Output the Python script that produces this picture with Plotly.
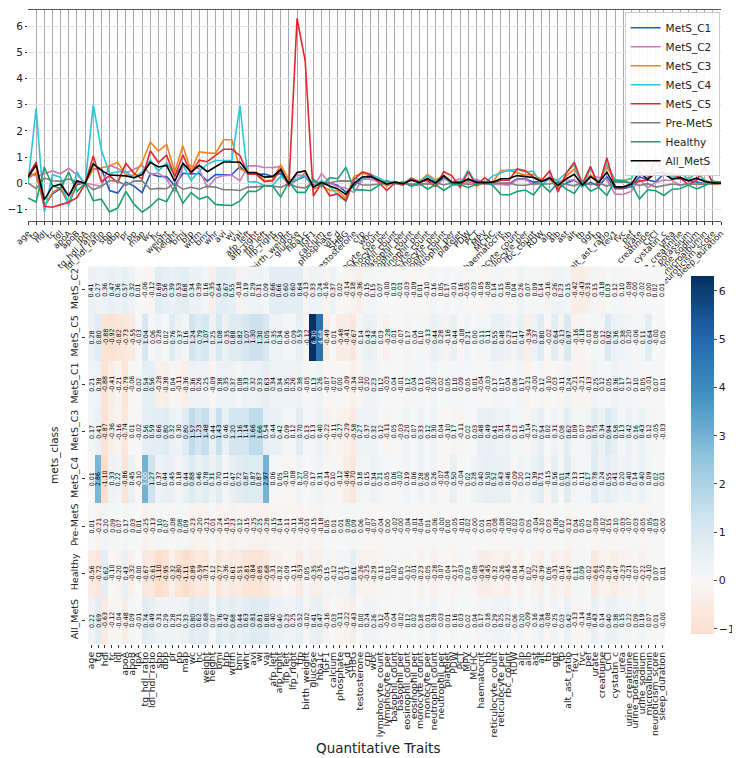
import numpy as np
import plotly.graph_objects as go

traits = ["age", "tg", "hdl", "tc", "ldl", "apoA", "apoB", "lpA", "tg_hdl_ratio", "ldl_hdl_ratio",
          "sbp", "dbp", "pr", "pp", "map", "wc", "hc", "weight", "height", "bmi",
          "bfp", "wtfm", "bmr", "whr", "avi", "wi", "vai", "afp_left", "afp_right", "lfp_left",
          "lfp_right", "tfp", "birth_weight", "glucose", "hba1c", "IGF1", "calcium", "phosphate", "vit_d", "SHBG",
          "testosterone", "crp", "wbc", "lymphocyte_count", "lymphocyte_per", "basophil_count", "basophil_per",
          "eosinophil_count", "eosinophil_per", "monocyte_count", "monocyte_per", "neutrophil_count",
          "neutrophil_per", "platelet", "PDW", "PCT", "MPV", "MCHC", "haematocrit", "hb",
          "reticulocyte_count", "reticulocyte_per", "rbc_count", "RDW", "alp", "alb", "ast", "alt", "tb", "ggt",
          "tp", "alt_ast_ratio", "fev1", "fvc", "pef", "urate", "creatinine", "CrCl", "cystatin_c", "urea",
          "urine_creatinine", "urine_potassium", "urine_sodium", "microalbumin", "neuroticism_score",
          "sleep_duration"]

mets_c1 = [0.21, 0.38, -0.88, -0.41, -0.21, -0.79, -0.06, 0.02, 0.54, 0.56,
           -0.28, -0.38, 0.04, -0.11, -0.36, 0.36, 0.26, 0.25, -0.09, 0.38,
           0.35, 0.37, 0.08, 0.33, 0.32, 0.33, 0.63, 0.34, 0.34, 0.35,
           0.26, 0.38, -0.05, 0.13, 0.26, -0.07, -0.07, 0.00, -0.09, -0.34,
           -0.10, 0.20, 0.23, 0.12, -0.03, 0.04, -0.01, 0.12, 0.04, 0.13,
           -0.01, 0.20, 0.02, 0.05, 0.10, 0.09, 0.05, 0.01, -0.04, -0.03,
           0.17, 0.17, 0.04, 0.06, 0.17, -0.21, -0.00, 0.12, -0.10, 0.03,
           -0.11, 0.24, -0.21, -0.21, -0.13, 0.25, 0.12, 0.05, 0.36, 0.17,
           0.17, 0.10, 0.05, -0.01, 0.07, 0.01]

mets_c2 = [0.41, 0.27, 0.36, 0.47, 0.36, 0.57, 0.32, 0.01, -0.06, -0.12,
           0.69, 0.56, 0.39, 0.53, 0.68, 0.34, 0.39, 0.16, -0.35, 0.64,
           0.67, 0.55, -0.18, 0.19, 0.29, 0.31, 0.09, 0.66, 0.66, 0.60,
           0.60, 0.64, -0.13, 0.33, 0.24, -0.16, 0.37, 0.02, -0.14, -0.18,
           -0.36, 0.15, 0.15, 0.07, -0.00, 0.03, -0.01, -0.03, -0.09, 0.01,
           -0.10, 0.16, 0.05, 0.17, -0.01, 0.16, -0.05, -0.03, -0.05, -0.08,
           0.14, 0.15, -0.06, 0.04, 0.26, 0.07, 0.09, 0.14, -0.16, 0.26,
           0.23, 0.15, -0.42, -0.43, -0.31, 0.15, -0.18, 0.03, 0.12, 0.10,
           -0.08, -0.00, -0.02, 0.00, 0.02, 0.01]

mets_c3 = [0.17, 0.41, -0.87, -0.36, -0.16, -0.74, 0.01, -0.02, 0.56, 0.59,
           0.66, 0.80, 0.32, 0.30, 0.80, 1.57, 1.23, 1.48, 0.44, 1.43,
           0.46, 1.20, 1.16, 1.14, 1.66, 1.66, 0.54, 0.44, 0.42, 0.09,
           0.12, 0.70, 0.13, 0.13, 0.40, -0.22, -0.11, -0.27, -0.29, -0.58,
           0.27, 0.37, 0.32, 0.12, -0.11, 0.05, -0.03, 0.20, 0.07, 0.33,
           0.12, 0.30, 0.04, -0.10, 0.17, -0.11, 0.02, 0.03, 0.48, 0.49,
           0.41, 0.31, 0.34, 0.13, 0.15, -0.14, 0.27, 0.54, 0.02, 0.31,
           0.08, 0.62, 0.09, 0.07, 0.19, 0.75, 0.34, 0.94, 0.58, 0.13,
           0.42, 0.16, 0.43, 0.12, -0.05, -0.03]

mets_c4 = [0.01, 2.86, -1.10, 0.33, 0.22, -0.86, 0.45, -0.10, 3.00, 1.27,
           0.37, 0.44, 0.45, 0.18, 0.44, 0.88, 0.46, 0.78, 0.31, 0.70,
           0.11, 0.47, 0.72, 0.87, 0.87, 0.87, 2.97, 0.06, 0.05, -0.10,
           -0.08, 0.27, -0.00, 0.17, 0.31, -0.14, 0.10, -0.12, -0.46, -0.70,
           0.18, 0.15, 0.34, 0.21, 0.05, 0.06, -0.02, 0.19, 0.06, 0.28,
           0.06, 0.26, -0.07, -0.04, 0.50, -0.04, 0.02, 0.28, 0.40, 0.50,
           0.52, 0.43, 0.46, -0.09, 0.20, 0.12, 0.39, 0.71, -0.15, 0.56,
           0.01, 0.74, 0.13, 0.11, 0.17, 0.78, 0.24, 0.55, 0.41, 0.20,
           0.40, 0.14, 0.40, 0.09, 0.02, 0.01]

mets_c5 = [0.28, 0.80, -0.88, -0.92, -0.82, -0.73, -0.55, -0.03, 1.04, 0.06,
           0.28, 0.02, 0.76, 0.37, 0.16, 1.24, 0.79, 1.07, 0.25, 1.08,
           0.35, 0.88, 0.82, 1.07, 1.30, 1.30, 1.05, 0.35, 0.34, 0.06,
           0.09, 0.53, -0.12, 6.30, 4.68, -0.49, 0.01, -0.48, -0.41, -0.67,
           0.14, 0.43, 0.34, 0.03, -0.28, 0.01, -0.07, 0.17, 0.04, 0.10,
           -0.13, 0.44, 0.28, -0.16, 0.44, -0.08, 0.21, 0.00, 0.11, 0.11,
           0.55, 0.48, 0.23, 0.11, 0.47, -0.34, 0.37, 0.80, -0.02, 0.64,
           -0.13, 0.97, -0.16, -0.18, -0.01, 0.08, 0.12, 0.92, 0.36, 0.38,
           0.20, -0.06, 0.11, 0.64, -0.00, 0.05]

pre_mets = [0.01, -0.21, 0.20, 0.09, 0.07, 0.17, 0.03, 0.01, -0.25, -0.13,
            0.10, 0.07, -0.08, 0.08, 0.09, -0.23, -0.20, -0.21, -0.01, -0.24,
            -0.15, -0.23, -0.12, -0.15, -0.25, -0.25, -0.28, -0.15, -0.14, -0.11,
            -0.11, -0.16, -0.01, -0.15, -0.18, 0.05, 0.01, 0.01, 0.08, 0.09,
            0.06, -0.07, -0.07, -0.04, 0.00, -0.02, -0.00, -0.04, -0.01, -0.04,
            0.01, -0.06, -0.00, 0.00, -0.05, -0.01, -0.02, -0.00, 0.01, 0.01,
            -0.08, -0.08, -0.02, -0.02, -0.03, 0.05, -0.04, -0.10, 0.03, -0.06,
            0.02, -0.12, 0.04, 0.05, 0.02, -0.09, -0.02, -0.15, -0.10, -0.03,
            -0.07, -0.03, -0.05, -0.05, -0.03, -0.00]

healthy = [-0.56, -0.72, 0.62, -0.10, -0.20, 0.43, -0.32, -0.00, -0.67, -0.61,
           -1.10, -0.95, -0.32, -0.80, -1.11, -0.89, -0.59, -0.71, -0.12, -0.77,
           -0.36, -0.61, -0.51, -0.81, -0.84, -0.85, -0.68, -0.31, -0.32, -0.09,
           -0.11, -0.53, 0.05, -0.35, -0.35, 0.15, -0.12, 0.21, 0.17, 0.61,
           -0.26, -0.25, -0.29, -0.11, 0.10, -0.02, 0.05, -0.12, -0.01, -0.23,
           -0.05, -0.28, -0.07, -0.04, -0.17, -0.03, 0.03, -0.08, -0.43, -0.45,
           -0.32, -0.26, -0.45, -0.04, -0.34, 0.02, -0.22, -0.39, 0.06, -0.31,
           -0.16, -0.47, 0.11, 0.09, -0.02, -0.61, -0.25, -0.29, -0.47, -0.23,
           -0.21, -0.07, -0.22, -0.10, 0.07, 0.01]

all_mets = [0.22, 0.69, -0.63, -0.12, -0.04, -0.48, 0.09, -0.01, 0.74, 0.49,
            0.31, 0.29, 0.28, 0.21, 0.33, 0.80, 0.62, 0.68, 0.07, 0.76,
            0.42, 0.68, 0.44, 0.63, 0.81, 0.81, 0.80, 0.40, 0.40, 0.23,
            0.25, 0.52, -0.02, 0.41, 0.47, -0.16, 0.03, -0.11, -0.22, -0.43,
            0.00, 0.24, 0.26, 0.12, -0.04, 0.04, -0.02, 0.12, 0.02, 0.18,
            0.01, 0.28, 0.03, 0.01, 0.16, 0.03, 0.02, 0.04, 0.17, 0.18,
            0.29, 0.25, 0.22, 0.06, 0.20, -0.09, 0.16, 0.34, -0.08, 0.25,
            0.03, 0.42, -0.13, -0.14, -0.04, 0.43, 0.14, 0.40, 0.38, 0.15,
            0.22, 0.09, 0.19, 0.07, 0.01, -0.00]

classes = {"MetS_C1": mets_c1, "MetS_C2": mets_c2, "MetS_C3": mets_c3, "MetS_C4": mets_c4,
           "MetS_C5": mets_c5, "Pre-MetS": pre_mets, "Healthy": healthy, "All_MetS": all_mets}
line_colors = {"MetS_C1": "#1f58c9", "MetS_C2": "#cf7bb3", "MetS_C3": "#ff7f0e", "MetS_C4": "#2cc6da",
               "MetS_C5": "#df272c", "Pre-MetS": "#7f7f7f", "Healthy": "#17a077", "All_MetS": "#000000"}
heat_rows = ["MetS_C2", "MetS_C5", "MetS_C1", "MetS_C3", "MetS_C4", "Pre-MetS", "Healthy", "All_MetS"]

FONT = "DejaVu Sans"

# RdBu centrado en 0 (como seaborn con center=0)
rdbu = np.array([(103, 0, 31), (178, 24, 43), (214, 96, 77), (244, 165, 130), (253, 219, 199),
                 (247, 247, 247), (209, 229, 240), (146, 197, 222), (67, 147, 195), (33, 102, 172),
                 (5, 48, 97)], dtype=float)
pos = np.linspace(0, 1, len(rdbu))

z = np.array([classes[r] for r in heat_rows])
zmin, zmax = z.min(), z.max()
vrange = max(zmax, -zmin)

def color_at(v):
    t = 0.5 + v / (2 * vrange)
    return [np.interp(t, pos, rdbu[:, k]) for k in range(3)]

def lum(rgb):
    c = np.array(rgb) / 255.0
    c = np.where(c <= 0.03928, c / 12.92, ((c + 0.055) / 1.055) ** 2.4)
    return 0.2126 * c[0] + 0.7152 * c[1] + 0.0722 * c[2]

colorscale = []
for p in np.linspace(0, 1, 61):
    r, g, b = color_at(zmin + p * (zmax - zmin))
    colorscale.append([p, f"rgb({r:.0f},{g:.0f},{b:.0f})"])

fig = go.Figure()

for name, vals in classes.items():
    fig.add_trace(go.Scatter(x=traits, y=vals, mode="lines", name=name,
                             line=dict(color=line_colors[name], width=1.6),
                             xaxis="x", yaxis="y"))

fig.add_trace(go.Heatmap(z=z, x=traits, y=heat_rows, xaxis="x2", yaxis="y2",
                         colorscale=colorscale, zmin=zmin, zmax=zmax, showscale=True,
                         colorbar=dict(x=0.943, xanchor="left", y=0.4095, yanchor="middle",
                                       len=0.501, thickness=23, outlinewidth=0,
                                       tickvals=list(range(-1, 7)), ticks="outside", ticklen=3,
                                       tickfont=dict(size=11, family=FONT, color="#222"))))

# numeros de cada celda, girados como en seaborn
annots = []
for i, row in enumerate(heat_rows):
    for j, tr in enumerate(traits):
        v = z[i, j]
        col = "#000000" if lum(color_at(v)) > 0.408 else "#ffffff"
        annots.append(dict(x=tr, y=row, xref="x2", yref="y2", text=f"{v:.2f}", textangle=-90,
                           showarrow=False, font=dict(size=6.3, family=FONT, color=col)))

annots.append(dict(x=0.505, y=0.008, xref="paper", yref="paper", text="Quantitative Traits",
                   showarrow=False, font=dict(size=13.5, family=FONT, color="#222")))

fig.update_layout(
    width=740, height=758,
    margin=dict(l=20, r=2, t=2, b=2),
    paper_bgcolor="white", plot_bgcolor="white",
    font=dict(family=FONT, color="#222"),
    annotations=annots,
    legend=dict(x=0.998, xanchor="right", y=0.997, yanchor="top", bgcolor="rgba(255,255,255,0.9)",
                bordercolor="#cccccc", borderwidth=1, font=dict(size=10.5, family=FONT),
                tracegroupgap=0, itemwidth=30),
    xaxis=dict(domain=[0, 1], anchor="y", range=[0, len(traits) - 1], tickangle=-45,
               tickmode="array", tickvals=traits, automargin=False,
               tickfont=dict(size=8.5, family=FONT), showgrid=True, gridcolor="#a8a8a8",
               gridwidth=1, ticks="outside", ticklen=3, tickcolor="#333",
               showline=True, linecolor="#555", mirror=True, zeroline=False),
    yaxis=dict(domain=[0.72, 1], anchor="x", range=[-1.45, 6.62], dtick=1, automargin=False,
               tickfont=dict(size=10.5, family=FONT), showgrid=True, gridcolor="#e2e2e2",
               ticks="outside", ticklen=2, tickcolor="#333", zeroline=False),
    xaxis2=dict(domain=[0.0836, 0.923], anchor="y2", tickangle=-90, tickmode="array",
                tickvals=traits, automargin=False, tickfont=dict(size=9.3, family=FONT),
                ticks="outside", ticklen=3, tickcolor="#333", showgrid=False, zeroline=False),
    yaxis2=dict(domain=[0.159, 0.660], anchor="x2", autorange="reversed", tickangle=-90,
                automargin=False, tickfont=dict(size=9.5, family=FONT), ticks="outside",
                ticklen=3, tickcolor="#333",
                title=dict(text="mets_class", font=dict(size=10.5, family=FONT), standoff=8),
                showgrid=False, zeroline=False),
)

fig.write_html("out.html")
